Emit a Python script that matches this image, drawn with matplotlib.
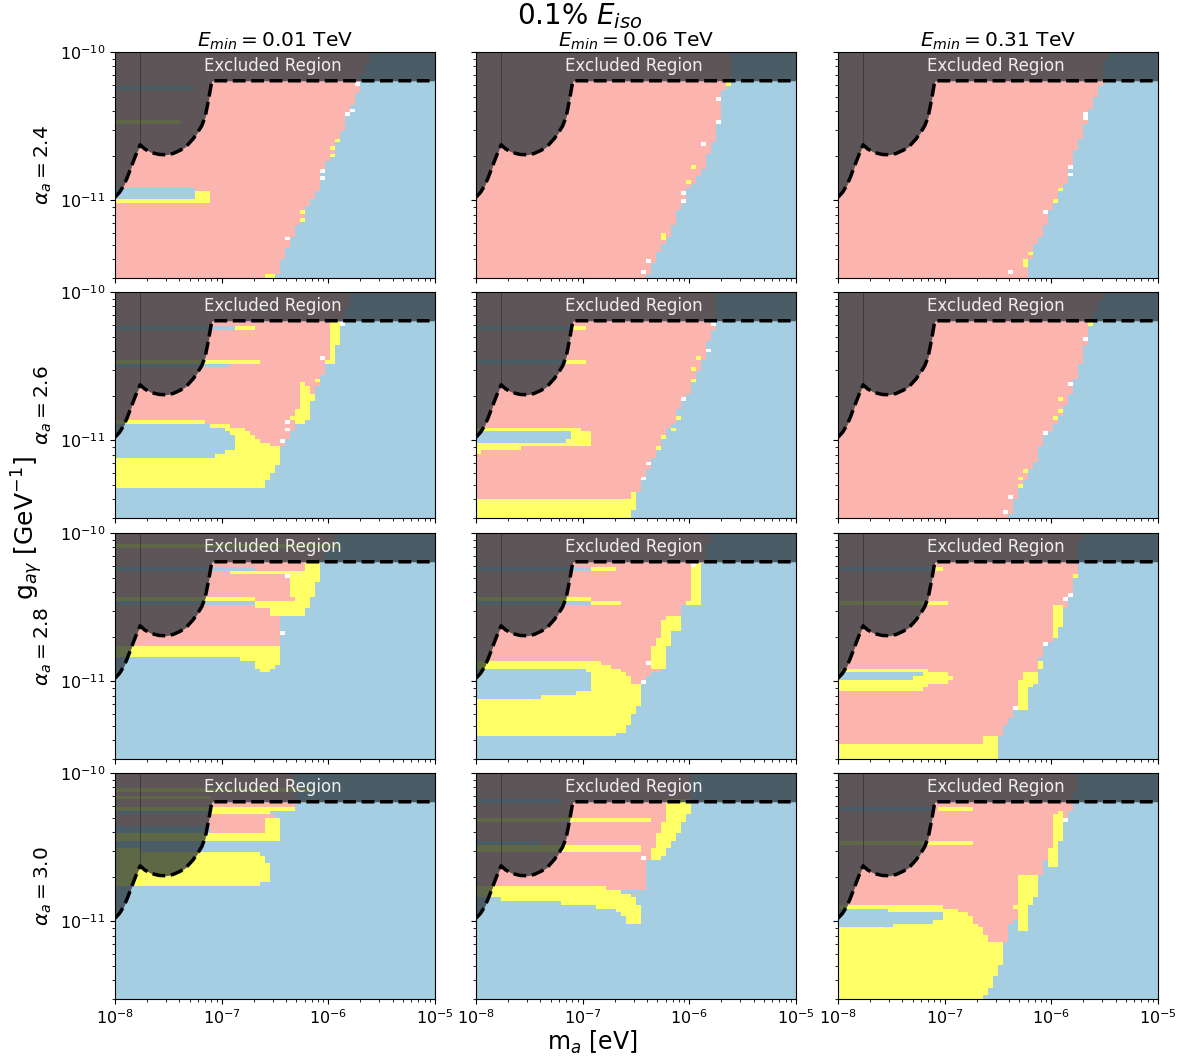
import matplotlib
matplotlib.use("Agg")
import matplotlib.pyplot as plt
import numpy as np
from matplotlib.colors import ListedColormap
from matplotlib.path import Path

alphas = [2.4, 2.6, 2.8, 3.0]
e_mins = ["0.01", "0.06", "0.31"]

BLUE, PINK, YELLOW, WHITE = 0, 1, 2, 3
colours = ["#a6cee3", "#fbb4ae", "#ffff66", "#ffffff"]

# boundary of the excluded region (same in every panel)
excl_m = [1.0e-8, 1.1e-8, 1.2e-8, 1.3e-8, 1.45e-8, 1.6e-8, 1.72e-8, 1.9e-8, 2.2e-8,
          2.6e-8, 3.0e-8, 3.5e-8, 4.1e-8, 4.7e-8, 5.4e-8, 6.0e-8, 6.5e-8, 7.0e-8,
          7.55e-8, 7.8e-8, 8.0e-8, 8.1e-8, 1e-5]
excl_g = [1.05e-11, 1.13e-11, 1.25e-11, 1.42e-11, 1.75e-11, 2.1e-11, 2.37e-11, 2.22e-11, 2.1e-11,
          2.04e-11, 2.03e-11, 2.07e-11, 2.18e-11, 2.33e-11, 2.6e-11, 2.9e-11, 3.18e-11, 3.65e-11,
          4.8e-11, 5.5e-11, 6.1e-11, 6.4e-11, 6.4e-11]


def poly(code, m, g):
    return ("poly", code, m, g)


def box(code, m0, m1, g0, g1):
    return ("poly", code, [m0, m1, m1, m0], [g0, g0, g1, g1])


def cells(code, m, g):
    return ("cells", code, m, g)


# ---- alpha = 2.4 ----
a24_e001 = [
    poly(PINK, [1e-8, 2.6e-6, 1.94e-6, 1.85e-6, 1.49e-6, 1.3e-6, 9.1e-7, 7.9e-7, 6.6e-7, 5.1e-7, 4.1e-7, 3.56e-7, 3.2e-7, 1e-8],
         [1e-10, 1e-10, 6.4e-11, 4.8e-11, 3.7e-11, 2.59e-11, 1.71e-11, 1.14e-11, 9.3e-12, 6.8e-12, 4.75e-12, 3.67e-12, 3e-12, 3e-12]),
    poly(BLUE, [1e-8, 5.1e-8, 6.3e-8, 6.3e-8, 1e-8], [1.2e-11, 1.2e-11, 1.15e-11, 1.03e-11, 1.03e-11]),
    poly(YELLOW, [1e-8, 2.46e-8, 2.46e-8, 5.65e-8, 5.65e-8, 8.1e-8, 8.1e-8, 1e-8],
         [1.03e-11, 1.03e-11, 1.04e-11, 1.04e-11, 1.15e-11, 1.15e-11, 9.7e-12, 9.7e-12]),
    box(BLUE, 1e-8, 5.65e-8, 5.6e-11, 5.95e-11),
    box(YELLOW, 1e-8, 3.95e-8, 3.3e-11, 3.5e-11),
    cells(YELLOW, [1.22e-6, 1.1e-6, 1.15e-6, 5.8e-7, 5.6e-7, 2.7e-7, 3.0e-7],
          [2.6e-11, 2.0e-11, 2.2e-11, 8.4e-12, 7.5e-12, 3.1e-12, 3.1e-12]),
    cells(WHITE, [1.62e-6, 1.55e-6, 8.5e-7, 4.1e-7, 8.8e-7, 1.8e-6],
          [4.1e-11, 3.8e-11, 1.55e-11, 5.5e-12, 1.45e-11, 6.0e-11]),
]

a24_e006 = [
    poly(PINK, [1e-8, 2.6e-6, 2.35e-6, 2.1e-6, 1.9e-6, 1.83e-6, 1.64e-6, 1.47e-6, 1.33e-6, 9.6e-7, 8.3e-7, 7.4e-7, 6.6e-7, 5.7e-7, 4.8e-7, 4.0e-7, 1e-8],
         [1e-10, 1e-10, 6.3e-11, 5.7e-11, 3.95e-11, 2.9e-11, 2.36e-11, 1.91e-11, 1.55e-11, 1.2e-11, 9.25e-12, 7.5e-12, 6.1e-12, 5.0e-12, 4.04e-12, 3e-12, 3e-12]),
    cells(YELLOW, [1.07e-6, 1.02e-6, 5.7e-7, 5.5e-7, 2.4e-6], [1.73e-11, 1.33e-11, 5.5e-12, 6.0e-12, 6.1e-11]),
    cells(WHITE, [1.37e-6, 8.9e-7, 4.3e-7, 1.96e-6, 1.8e-6, 3.8e-7, 9.3e-7],
          [2.36e-11, 1.14e-11, 4.0e-12, 4.9e-11, 3.3e-11, 3.3e-12, 1.0e-11]),
]

a24_e031 = [
    poly(PINK, [1e-8, 3.3e-6, 3.0e-6, 2.7e-6, 2.35e-6, 1.9e-6, 1.64e-6, 1.33e-6, 1.03e-6, 8.3e-7, 6.6e-7, 5.7e-7, 1e-8],
         [1e-10, 1e-10, 6.3e-11, 5.4e-11, 4.17e-11, 2.75e-11, 2.01e-11, 1.26e-11, 9.25e-12, 6.1e-12, 4.48e-12, 3e-12, 3e-12]),
    cells(YELLOW, [1.23e-6, 1.1e-6, 5.5e-7, 6.2e-7, 5.5e-7], [1.2e-11, 9.8e-12, 4.0e-12, 4.4e-12, 3.6e-12]),
    cells(WHITE, [2.1e-6, 1.47e-6, 9.0e-7, 4.3e-7, 1.5e-6, 2.2e-6], [3.6e-11, 1.65e-11, 8.3e-12, 3.2e-12, 1.5e-11, 3.9e-11]),
]

# ---- alpha = 2.6 ----
a26_e001 = [
    poly(PINK, [1e-8, 1.67e-6, 1.35e-6, 1.25e-6, 9.7e-7, 8.1e-7, 7.0e-7, 5.65e-7, 4.55e-7, 3.67e-7, 3.67e-7, 2.95e-7, 2.2e-7, 1.54e-7, 1.07e-7, 5.2e-8, 1e-8],
         [1e-10, 1e-10, 6.4e-11, 5.1e-11, 3.39e-11, 2.36e-11, 1.82e-11, 1.4e-11, 1.14e-11, 9.25e-12, 9.0e-12, 9.0e-12, 1.03e-11, 1.2e-11, 1.3e-11, 1.36e-11, 1.4e-11]),
    poly(YELLOW, [1e-8, 5.2e-8, 1.07e-7, 1.54e-7, 2.2e-7, 2.95e-7, 3.67e-7, 3.67e-7, 3.18e-7, 2.85e-7, 2.29e-7, 1e-8],
         [1.4e-11, 1.36e-11, 1.3e-11, 1.2e-11, 1.03e-11, 9.0e-12, 8.8e-12, 7.5e-12, 6.6e-12, 5.5e-12, 4.7e-12, 4.7e-12]),
    poly(BLUE, [1e-8, 5.6e-8, 1.07e-7, 1.38e-7, 1.43e-7, 1.24e-7, 8.65e-8, 5.6e-8, 1e-8],
         [1.3e-11, 1.3e-11, 1.2e-11, 1.05e-11, 9.5e-12, 8.55e-12, 7.9e-12, 7.5e-12, 7.5e-12]),
    poly(YELLOW, [1.04e-6, 1.35e-6, 1.25e-6, 1.16e-6, 9.7e-7, 1.08e-6], [6.4e-11, 6.4e-11, 5.1e-11, 3.39e-11, 3.39e-11, 5.1e-11]),
    poly(YELLOW, [5.26e-7, 5.9e-7, 6.5e-7, 7.3e-7, 6.5e-7, 5.65e-7, 4.55e-7, 5.26e-7],
         [2.48e-11, 2.48e-11, 2.23e-11, 2.01e-11, 1.4e-11, 1.26e-11, 1.4e-11, 1.72e-11]),
    box(BLUE, 1e-8, 1.29e-7, 5.6e-11, 5.95e-11),
    box(YELLOW, 1.29e-7, 2.06e-7, 5.6e-11, 5.95e-11),
    box(YELLOW, 1e-8, 1.24e-7, 3.35e-11, 3.55e-11),
    box(BLUE, 1e-8, 1.24e-7, 3.15e-11, 3.35e-11),
    box(YELLOW, 1.24e-7, 2.29e-7, 3.24e-11, 3.45e-11),
    cells(WHITE, [4.24e-7, 4.24e-7, 3.8e-7, 9.3e-7, 1.39e-6], [1.33e-11, 1.17e-11, 1.0e-11, 3.65e-11, 6.1e-11]),
    cells(YELLOW, [7.5e-7], [2.48e-11]),
]

a26_e006 = [
    poly(PINK, [1e-8, 1.86e-6, 1.8e-6, 1.6e-6, 1.46e-6, 1.3e-6, 1.02e-6, 8.2e-7, 7.1e-7, 5.9e-7, 4.6e-7, 4.1e-7, 3.5e-7, 3.2e-7, 2.9e-7, 1e-8],
         [1e-10, 1e-10, 6.3e-11, 5.27e-11, 4.3e-11, 3.15e-11, 2.2e-11, 1.7e-11, 1.3e-11, 1.13e-11, 7.4e-12, 6.3e-12, 4.9e-12, 4.0e-12, 3e-12, 3e-12]),
    poly(YELLOW, [1e-8, 3.0e-8, 3.6e-8, 8.8e-8, 1.02e-7, 1.26e-7, 1.26e-7, 7.6e-8, 3.0e-8, 1.56e-8, 1e-8],
         [1.24e-11, 1.24e-11, 1.21e-11, 1.2e-11, 1.15e-11, 1.12e-11, 9.4e-12, 9.1e-12, 8.9e-12, 8.6e-12, 8.2e-12]),
    poly(BLUE, [1e-8, 3.5e-8, 7.6e-8, 7.9e-8, 6.1e-8, 1.56e-8, 1e-8],
         [1.18e-11, 1.18e-11, 1.12e-11, 1.01e-11, 9.8e-12, 9.7e-12, 9.4e-12]),
    poly(YELLOW, [1e-8, 2.9e-7, 3.2e-7, 3.2e-7, 2.7e-7, 1e-8], [3e-12, 3e-12, 4.4e-12, 4.7e-12, 4.1e-12, 4.1e-12]),
    box(BLUE, 1e-8, 7.9e-8, 5.6e-11, 5.95e-11),
    box(YELLOW, 7.9e-8, 1.13e-7, 5.6e-11, 5.95e-11),
    box(BLUE, 1e-8, 7.1e-8, 3.22e-11, 3.42e-11),
    box(YELLOW, 7.1e-8, 1.13e-7, 3.22e-11, 3.42e-11),
    cells(YELLOW, [1.26e-6, 1.1e-6, 7.9e-7, 5.7e-7, 5.3e-7, 7.0e-7, 1.15e-6],
          [3.6e-11, 2.55e-11, 1.38e-11, 1.07e-11, 9.1e-12, 1.18e-11, 3.0e-11]),
    cells(WHITE, [1.5e-6, 8.5e-7, 4.3e-7, 3.8e-7, 1.7e-6], [4.07e-11, 1.88e-11, 7.2e-12, 5.6e-12, 6.0e-11]),
]

a26_e031 = [
    poly(PINK, [1e-8, 3.1e-6, 2.35e-6, 2.1e-6, 1.85e-6, 1.64e-6, 1.47e-6, 1.07e-6, 8.3e-7, 7.4e-7, 5.7e-7, 4.7e-7, 4.0e-7, 1e-8],
         [1e-10, 1e-10, 6.3e-11, 4.5e-11, 3.21e-11, 2.48e-11, 1.91e-11, 1.26e-11, 1.03e-11, 7.5e-12, 5.5e-12, 4.25e-12, 3e-12, 3e-12]),
    cells(YELLOW, [1.23e-6, 1.1e-6, 5.5e-7, 5.3e-7, 2.45e-6, 1.2e-6, 5.1e-7],
          [1.9e-11, 1.4e-11, 6.1e-12, 5e-12, 6e-11, 1.6e-11, 5.5e-12]),
    cells(WHITE, [2.0e-6, 1.47e-6, 8.9e-7, 4.3e-7, 3.8e-7], [4.9e-11, 2.36e-11, 1.14e-11, 4.2e-12, 3.3e-12]),
]

# ---- alpha = 2.8 ----
a28_e001 = [
    poly(PINK, [1e-8, 1.25e-6, 8.4e-7, 8.1e-7, 7.0e-7, 5.9e-7, 3.67e-7, 3.67e-7, 1e-8],
         [1e-10, 1e-10, 6.4e-11, 4.87e-11, 3.66e-11, 2.75e-11, 2.75e-11, 1.68e-11, 1.68e-11]),
    poly(YELLOW, [6.08e-7, 8.4e-7, 8.1e-7, 7.0e-7, 5.9e-7, 4.7e-7, 4.9e-7, 4.24e-7, 4.24e-7, 4.9e-7, 6.08e-7],
         [6.4e-11, 6.4e-11, 4.87e-11, 3.66e-11, 2.75e-11, 2.75e-11, 3.39e-11, 3.95e-11, 4.87e-11, 5.4e-11, 5.8e-11]),
    box(YELLOW, 1.24e-7, 4.9e-7, 5.35e-11, 5.65e-11),
    box(BLUE, 1e-8, 1.99e-7, 5.7e-11, 6.0e-11),
    box(YELLOW, 1e-8, 2.06e-7, 3.49e-11, 3.72e-11),
    box(BLUE, 1e-8, 2.06e-7, 3.21e-11, 3.49e-11),
    poly(YELLOW, [2.06e-7, 5.65e-7, 5.65e-7, 2.75e-7, 2.75e-7, 2.06e-7], [3.47e-11, 3.47e-11, 2.75e-11, 2.75e-11, 3.05e-11, 3.05e-11]),
    poly(YELLOW, [1e-8, 3.67e-7, 3.67e-7, 3.18e-7, 2.95e-7, 2.29e-7, 2.06e-7, 1.66e-7, 1.16e-7, 1e-8],
         [1.71e-11, 1.71e-11, 1.46e-11, 1.26e-11, 1.17e-11, 1.14e-11, 1.33e-11, 1.4e-11, 1.43e-11, 1.46e-11]),
    box(YELLOW, 1e-8, 1.25e-6, 8.1e-11, 8.5e-11),
    cells(WHITE, [3.8e-7, 4.24e-7], [2.18e-11, 5.0e-11]),
]

a28_e006 = [
    poly(PINK, [1e-8, 1.6e-6, 1.35e-6, 1.3e-6, 1.17e-6, 8.1e-7, 8.1e-7, 7.1e-7, 6.6e-7, 5.9e-7, 5.3e-7, 4.0e-7, 3.7e-7, 3.0e-7, 2.6e-7, 2.08e-7, 1.68e-7, 1.01e-7, 4.0e-8, 1e-8],
         [1e-10, 1e-10, 6.3e-11, 5.35e-11, 3.35e-11, 3.26e-11, 2.72e-11, 2.21e-11, 1.89e-11, 1.54e-11, 1.19e-11, 1.07e-11, 9.6e-12, 9.6e-12, 1.1e-11, 1.22e-11, 1.32e-11, 1.39e-11, 1.4e-11, 1.4e-11]),
    poly(YELLOW, [1e-8, 4.0e-8, 1.01e-7, 1.68e-7, 2.08e-7, 2.6e-7, 3.0e-7, 3.65e-7, 3.65e-7, 3.2e-7, 2.95e-7, 2.6e-7, 2.08e-7, 1e-8],
         [1.4e-11, 1.4e-11, 1.39e-11, 1.32e-11, 1.22e-11, 1.1e-11, 9.6e-12, 9.4e-12, 7.1e-12, 6.5e-12, 5.75e-12, 4.8e-12, 4.3e-12, 4.3e-12]),
    poly(BLUE, [1e-8, 8.8e-8, 1.26e-7, 1.26e-7, 1.01e-7, 8.2e-8, 4.9e-8, 1e-8],
         [1.25e-11, 1.22e-11, 1.16e-11, 8.9e-12, 8.5e-12, 8.3e-12, 7.9e-12, 7.6e-12]),
    poly(YELLOW, [1.05e-6, 1.3e-6, 1.3e-6, 9.4e-7, 9.4e-7, 1.05e-6], [6.3e-11, 6.3e-11, 3.35e-11, 3.26e-11, 3.52e-11, 3.52e-11]),
    poly(YELLOW, [5.3e-7, 8.1e-7, 8.1e-7, 7.1e-7, 6.6e-7, 5.9e-7, 5.7e-7, 4.6e-7, 4.6e-7, 5.3e-7],
         [2.66e-11, 2.72e-11, 2.21e-11, 2.21e-11, 1.89e-11, 1.54e-11, 1.2e-11, 1.2e-11, 1.7e-11, 2.0e-11]),
    box(BLUE, 1e-8, 1.26e-7, 5.55e-11, 5.85e-11),
    box(YELLOW, 1.26e-7, 2.0e-7, 5.55e-11, 5.85e-11),
    box(YELLOW, 1e-8, 1.26e-7, 3.4e-11, 3.6e-11),
    box(BLUE, 1e-8, 1.26e-7, 3.2e-11, 3.4e-11),
    box(YELLOW, 1.26e-7, 2.24e-7, 3.25e-11, 3.45e-11),
    cells(WHITE, [4.3e-7, 3.9e-7, 1.1e-6], [1.32e-11, 9.9e-12, 6.2e-11]),
]

a28_e031 = [
    poly(PINK, [1e-8, 1.9e-6, 1.83e-6, 1.64e-6, 1.47e-6, 1.33e-6, 1.03e-6, 8.3e-7, 7.2e-7, 6.2e-7, 4.65e-7, 3.6e-7, 3.2e-7, 3.2e-7, 1e-8],
         [1e-10, 1e-10, 6.4e-11, 4.6e-11, 3.66e-11, 3.05e-11, 1.91e-11, 1.68e-11, 1.14e-11, 9.25e-12, 6.4e-12, 4.97e-12, 3.83e-12, 3e-12, 3e-12]),
    poly(YELLOW, [1e-8, 2.26e-7, 2.26e-7, 3.2e-7, 3.2e-7, 1e-8], [3.7e-12, 3.7e-12, 4.25e-12, 4.25e-12, 3e-12, 3e-12]),
    poly(YELLOW, [1e-8, 6.2e-8, 7.1e-8, 1.02e-7, 1.14e-7, 1.14e-7, 8.9e-8, 6.4e-8, 6.2e-8, 1e-8],
         [1.21e-11, 1.21e-11, 1.16e-11, 1.16e-11, 1.11e-11, 1.0e-11, 9.75e-12, 9.25e-12, 8.8e-12, 8.8e-12]),
    poly(BLUE, [1e-8, 4.8e-8, 6.2e-8, 5.0e-8, 4.8e-8, 1e-8], [1.16e-11, 1.16e-11, 1.11e-11, 1.05e-11, 1.03e-11, 1.03e-11]),
    poly(YELLOW, [1.07e-6, 1.33e-6, 1.3e-6, 1.19e-6, 1.07e-6, 9.9e-7, 1.07e-6], [3.39e-11, 3.39e-11, 3.05e-11, 2.12e-11, 1.86e-11, 1.86e-11, 2.36e-11]),
    poly(YELLOW, [5.2e-7, 7.2e-7, 7.3e-7, 6.2e-7, 5.8e-7, 4.65e-7, 5.0e-7], [1.11e-11, 1.14e-11, 9.9e-12, 9.25e-12, 6.3e-12, 6.3e-12, 8.3e-12]),
    box(BLUE, 1e-8, 7.9e-8, 5.6e-11, 5.9e-11),
    box(YELLOW, 7.9e-8, 9.9e-8, 5.6e-11, 5.9e-11),
    box(YELLOW, 1e-8, 1.02e-7, 3.3e-11, 3.5e-11),
    cells(YELLOW, [1.64e-6, 7.5e-7, 7.5e-7], [5.0e-11, 1.35e-11, 1.25e-11]),
    cells(WHITE, [1.4e-6, 1.55e-6, 8.5e-7, 4.65e-7], [3.6e-11, 3.9e-11, 1.8e-11, 6.5e-12]),
]

# ---- alpha = 3.0 ----
a30_e001 = [
    box(PINK, 1e-8, 4.7e-7, 6.03e-11, 1e-10),
    box(YELLOW, 1e-8, 5.1e-7, 5.6e-11, 6.03e-11),
    box(PINK, 1e-8, 3.1e-7, 3.9e-11, 5.3e-11),
    box(YELLOW, 8.1e-8, 2.9e-7, 5.3e-11, 5.55e-11),
    box(YELLOW, 2.67e-7, 3.55e-7, 3.45e-11, 5.1e-11),
    box(YELLOW, 1e-8, 3.55e-7, 3.5e-11, 3.9e-11),
    poly(YELLOW, [1e-8, 2.14e-7, 2.5e-7, 2.86e-7, 2.86e-7, 2.3e-7, 1.25e-7, 1e-8],
         [3.03e-11, 2.96e-11, 2.67e-11, 2.34e-11, 1.93e-11, 1.77e-11, 1.7e-11, 1.77e-11]),
    box(YELLOW, 1e-8, 7.3e-7, 7.6e-11, 8.1e-11),
    box(YELLOW, 1e-8, 8.1e-8, 6.6e-11, 6.95e-11),
    box(BLUE, 1e-8, 7.5e-8, 4.03e-11, 4.5e-11),
    box(BLUE, 1e-8, 5.4e-8, 3.1e-11, 3.45e-11),
]

a30_e006 = [
    poly(PINK, [1e-8, 1.01e-6, 1.01e-6, 8.2e-7, 5.3e-7, 3.84e-7, 3.84e-7, 1e-8],
         [1e-10, 1e-10, 6.58e-11, 4.13e-11, 2.6e-11, 2.6e-11, 1.63e-11, 1.63e-11]),
    poly(YELLOW, [6.1e-7, 1.01e-6, 1.01e-6, 8.2e-7, 5.3e-7, 4.3e-7, 4.8e-7, 6.1e-7],
         [6.58e-11, 6.58e-11, 5.6e-11, 4.13e-11, 2.6e-11, 2.6e-11, 3.5e-11, 5.0e-11]),
    box(YELLOW, 1e-8, 4.3e-7, 4.8e-11, 5.1e-11),
    box(BLUE, 1e-8, 6.1e-8, 6.3e-11, 6.6e-11),
    box(YELLOW, 1e-8, 3.44e-7, 2.9e-11, 3.2e-11),
    box(BLUE, 1e-8, 4.0e-8, 3.2e-11, 3.5e-11),
    poly(YELLOW, [1e-8, 1.45e-7, 2.77e-7, 3.44e-7, 3.44e-7, 2.77e-7, 2.24e-7, 1.17e-7, 2.58e-8, 1e-8],
         [1.71e-11, 1.71e-11, 1.55e-11, 1.29e-11, 9.5e-12, 9.5e-12, 1.16e-11, 1.29e-11, 1.39e-11, 1.44e-11]),
    cells(WHITE, [3.7e-7], [2.7e-11]),
]

a30_e031 = [
    poly(PINK, [1e-8, 1.87e-6, 1.6e-6, 1.5e-6, 1.35e-6, 1.17e-6, 8.1e-7, 7.6e-7, 5.7e-7, 4.1e-7, 3.7e-7, 3.3e-7, 2.6e-7, 2.3e-7, 1e-8],
         [1e-10, 1e-10, 6.35e-11, 5.63e-11, 4.83e-11, 3.03e-11, 2.47e-11, 1.63e-11, 1.14e-11, 9.5e-12, 7.15e-12, 5.0e-12, 3.47e-12, 3e-12, 3e-12]),
    poly(YELLOW, [1e-8, 5.1e-8, 9.1e-8, 1.21e-7, 1.61e-7, 2.0e-7, 2.31e-7, 2.67e-7, 3.7e-7, 3.7e-7, 3.3e-7, 2.6e-7, 2.3e-7, 1e-8],
         [1.33e-11, 1.33e-11, 1.26e-11, 1.23e-11, 1.11e-11, 9.75e-12, 8.35e-12, 7.15e-12, 7.15e-12, 6.0e-12, 5.0e-12, 3.47e-12, 3e-12, 3e-12]),
    poly(BLUE, [1e-8, 9.1e-8, 1.01e-7, 1.01e-7, 7.3e-8, 5.1e-8, 1e-8],
         [1.2e-11, 1.17e-11, 1.11e-11, 1.05e-11, 9.75e-12, 9.5e-12, 9.0e-12]),
    poly(YELLOW, [1.05e-6, 1.3e-6, 1.35e-6, 1.17e-6, 1.14e-6, 9.7e-7, 9.1e-7, 1.05e-6],
         [5.35e-11, 5.63e-11, 4.83e-11, 3.03e-11, 2.28e-11, 2.28e-11, 2.6e-11, 3.45e-11]),
    poly(YELLOW, [5.1e-7, 7.3e-7, 7.6e-7, 7.6e-7, 6.1e-7, 5.7e-7, 4.75e-7, 4.58e-7, 5.1e-7],
         [2.01e-11, 2.11e-11, 1.63e-11, 1.63e-11, 1.2e-11, 8.6e-12, 8.6e-12, 1.3e-11, 1.55e-11]),
    box(BLUE, 1e-8, 8.1e-8, 5.5e-11, 5.8e-11),
    box(YELLOW, 8.7e-8, 1.8e-7, 5.5e-11, 5.8e-11),
    box(YELLOW, 1e-8, 1.8e-7, 3.25e-11, 3.45e-11),
    cells(WHITE, [1.35e-6], [4.7e-11]),
]

panels = [[a24_e001, a24_e006, a24_e031],
          [a26_e001, a26_e006, a26_e031],
          [a28_e001, a28_e006, a28_e031],
          [a30_e001, a30_e006, a30_e031]]

# scan grid
m_edges = np.logspace(-8, -5, 65)
g_edges = np.logspace(np.log10(3e-12), -10, 61)
m_centres = np.sqrt(m_edges[:-1] * m_edges[1:])
g_centres = np.sqrt(g_edges[:-1] * g_edges[1:])


def category_grid(layers):
    z = np.zeros((len(g_centres), len(m_centres)), dtype=int)
    lm, lg = np.meshgrid(np.log10(m_centres), np.log10(g_centres))
    pts = np.column_stack([lm.ravel(), lg.ravel()])
    for kind, code, m, g in layers:
        if kind == "poly":
            verts = np.column_stack([np.log10(m), np.log10(g)])
            verts = np.vstack([verts, verts[:1]])
            inside = Path(verts, closed=True).contains_points(pts).reshape(z.shape)
            z[inside] = code
        else:
            i = np.searchsorted(g_edges, g) - 1
            j = np.searchsorted(m_edges, m) - 1
            z[i, j] = code
    return z


cmap = ListedColormap(colours)

fig = plt.figure(figsize=(11.91, 10.57), dpi=100)
lefts = [115 / 1191, 476 / 1191, 838 / 1191]
tops = [52, 292, 533, 773]
w = 320 / 1191
h = 226 / 1057

for r in range(4):
    for c in range(3):
        ax = fig.add_axes([lefts[c], 1 - (tops[r] + 226) / 1057, w, h])
        z = category_grid(panels[r][c])
        ax.pcolormesh(m_edges, g_edges, z, cmap=cmap, vmin=-0.5, vmax=3.5, shading="flat")
        ax.fill_between(excl_m, excl_g, 1e-10, color="#2d383d", alpha=0.76, lw=0)
        ax.plot([1.72e-8, 1.72e-8], [2.37e-11, 1e-10], color="#3c3c3c", lw=0.7)
        ax.plot(excl_m, excl_g, "k--", lw=2.5)
        ax.text(3e-7, 8.0e-11, "Excluded Region", color="white", alpha=0.9,
                ha="center", va="center", fontsize=12)
        ax.set_xscale("log")
        ax.set_yscale("log")
        ax.set_xlim(1e-8, 1e-5)
        ax.set_ylim(3e-12, 1e-10)
        ax.tick_params(labelsize=11.5)
        if r == 0:
            ax.set_title(r"$E_{min} = %s$ TeV" % e_mins[c], fontsize=14.5, pad=3)
        if c == 0:
            ax.set_ylabel(r"$\alpha_a = %.1f$" % alphas[r], fontsize=14.5)
        else:
            ax.tick_params(labelleft=False, which="both")
        if r != 3:
            ax.tick_params(labelbottom=False, which="both")

fig.text(0.487, 0.999, r"0.1% $E_{iso}$", ha="center", va="top", fontsize=20)
fig.text(0.497, 0.001, r"m$_a$ [eV]", ha="center", va="bottom", fontsize=17)
fig.text(0.008, 0.5, r"g$_{a\gamma}$ [GeV$^{-1}$]", ha="left", va="center",
         rotation=90, fontsize=18)

fig.savefig("out.png", dpi=100)
